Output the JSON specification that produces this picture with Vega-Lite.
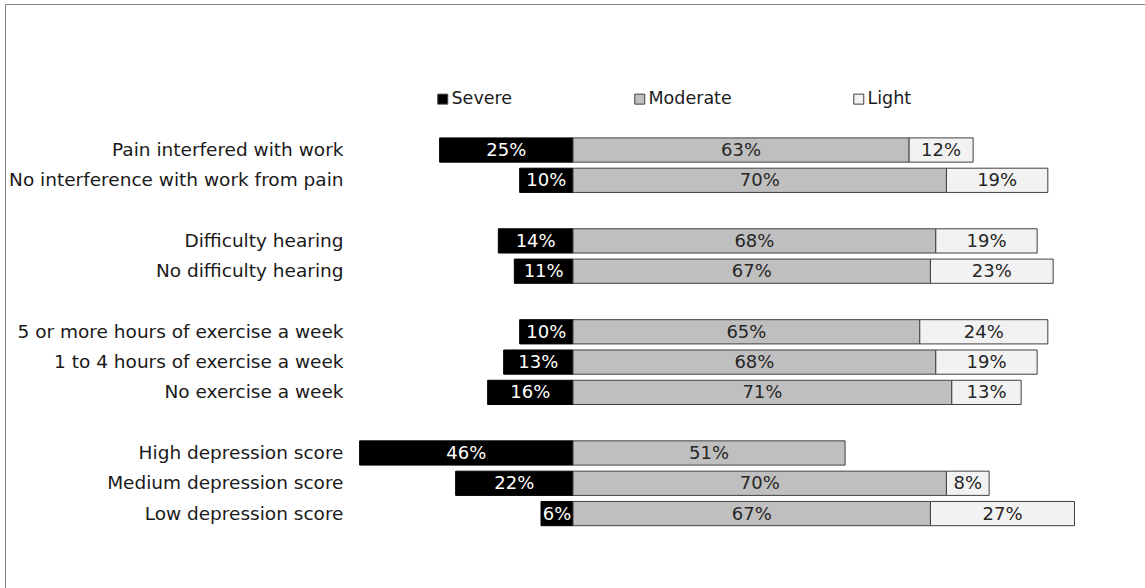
{
  "$schema": "https://vega.github.io/schema/vega-lite/v6.json",
  "width": 1142,
  "height": 586,
  "autosize": {"type": "none"},
  "padding": {"left": 5, "top": 4, "right": -2, "bottom": -2},
  "background": "white",
  "config": {
    "view": {"stroke": "#7f7f7f", "strokeWidth": 1},
    "font": "DejaVu Sans"
  },
  "data": {
    "values": [
      {"group": "Pain interfered with work", "Severe": 25, "Moderate": 63, "Light": 12},
      {"group": "No interference with work from pain", "Severe": 10, "Moderate": 70, "Light": 19},
      {"group": "Difficulty hearing", "Severe": 14, "Moderate": 68, "Light": 19},
      {"group": "No difficulty hearing", "Severe": 11, "Moderate": 67, "Light": 23},
      {"group": "5 or more hours of exercise a week", "Severe": 10, "Moderate": 65, "Light": 24},
      {"group": "1 to 4 hours of exercise a week", "Severe": 13, "Moderate": 68, "Light": 19},
      {"group": "No exercise a week", "Severe": 16, "Moderate": 71, "Light": 13},
      {"group": "High depression score", "Severe": 46, "Moderate": 51, "Light": null},
      {"group": "Medium depression score", "Severe": 22, "Moderate": 70, "Light": 8},
      {"group": "Low depression score", "Severe": 6, "Moderate": 67, "Light": 27}
    ]
  },
  "transform": [
    {"fold": ["Severe", "Moderate", "Light"], "as": ["cat", "val"]},
    {"filter": "isValid(datum.val)"},
    {"calculate": "datum.cat === 'Severe' ? max(-datum.val, -40) : datum.cat === 'Moderate' ? 0 : datum.Moderate", "as": "x0"},
    {"calculate": "datum.cat === 'Severe' ? 0 : datum.cat === 'Moderate' ? datum.val : datum.Moderate + datum.val", "as": "x1"},
    {"calculate": "(datum.x0 + datum.x1) / 2", "as": "xm"},
    {"calculate": "datum.val + '%'", "as": "lbl"}
  ],
  "encoding": {
    "y": {
      "field": "group",
      "type": "nominal",
      "scale": {
        "domain": ["Pain interfered with work", "No interference with work from pain", " ", "Difficulty hearing", "No difficulty hearing", "  ", "5 or more hours of exercise a week", "1 to 4 hours of exercise a week", "No exercise a week", "   ", "High depression score", "Medium depression score", "Low depression score"],
        "range": [133.9, 521.7],
        "paddingInner": 0.2,
        "paddingOuter": 0
      },
      "axis": {
        "title": null,
        "orient": "left",
        "offset": -338,
        "ticks": false,
        "domain": false,
        "labelPadding": 0,
        "labelFontSize": 18.5,
        "labelFont": "DejaVu Sans",
        "labelColor": "#1a1a1a",
        "labelLimit": 500
      }
    }
  },
  "layer": [
    {
      "mark": {"type": "bar", "strokeWidth": 1},
      "encoding": {
        "x": {"field": "x0", "type": "quantitative", "scale": {"domain": [-106.47, 107.59], "nice": false, "zero": false}, "axis": null},
        "x2": {"field": "x1"},
        "fill": {
          "field": "cat",
          "type": "nominal",
          "scale": {"domain": ["Severe", "Moderate", "Light"], "range": ["#000000", "#bfbfbf", "#f2f2f2"]},
          "legend": {
            "title": null,
            "orient": "none",
            "legendX": 429,
            "legendY": 86,
            "direction": "horizontal",
            "columns": 3,
            "columnPadding": 118,
            "symbolType": "square",
            "symbolSize": 100,
            "symbolStrokeColor": "#404040",
            "symbolStrokeWidth": 1,
            "labelOffset": 0,
            "labelFontSize": 17.5,
            "labelFont": "DejaVu Sans",
            "labelColor": "#1a1a1a"
          }
        },
        "stroke": {"condition": {"test": "datum.cat === 'Severe'", "value": "#000000"}, "value": "#404040"}
      }
    },
    {
      "mark": {"type": "text", "fontSize": 18, "baseline": "middle", "dy": 1},
      "encoding": {
        "x": {"field": "xm", "type": "quantitative"},
        "text": {"field": "lbl"},
        "color": {"condition": {"test": "datum.cat === 'Severe'", "value": "#ffffff"}, "value": "#262626"}
      }
    }
  ]
}
